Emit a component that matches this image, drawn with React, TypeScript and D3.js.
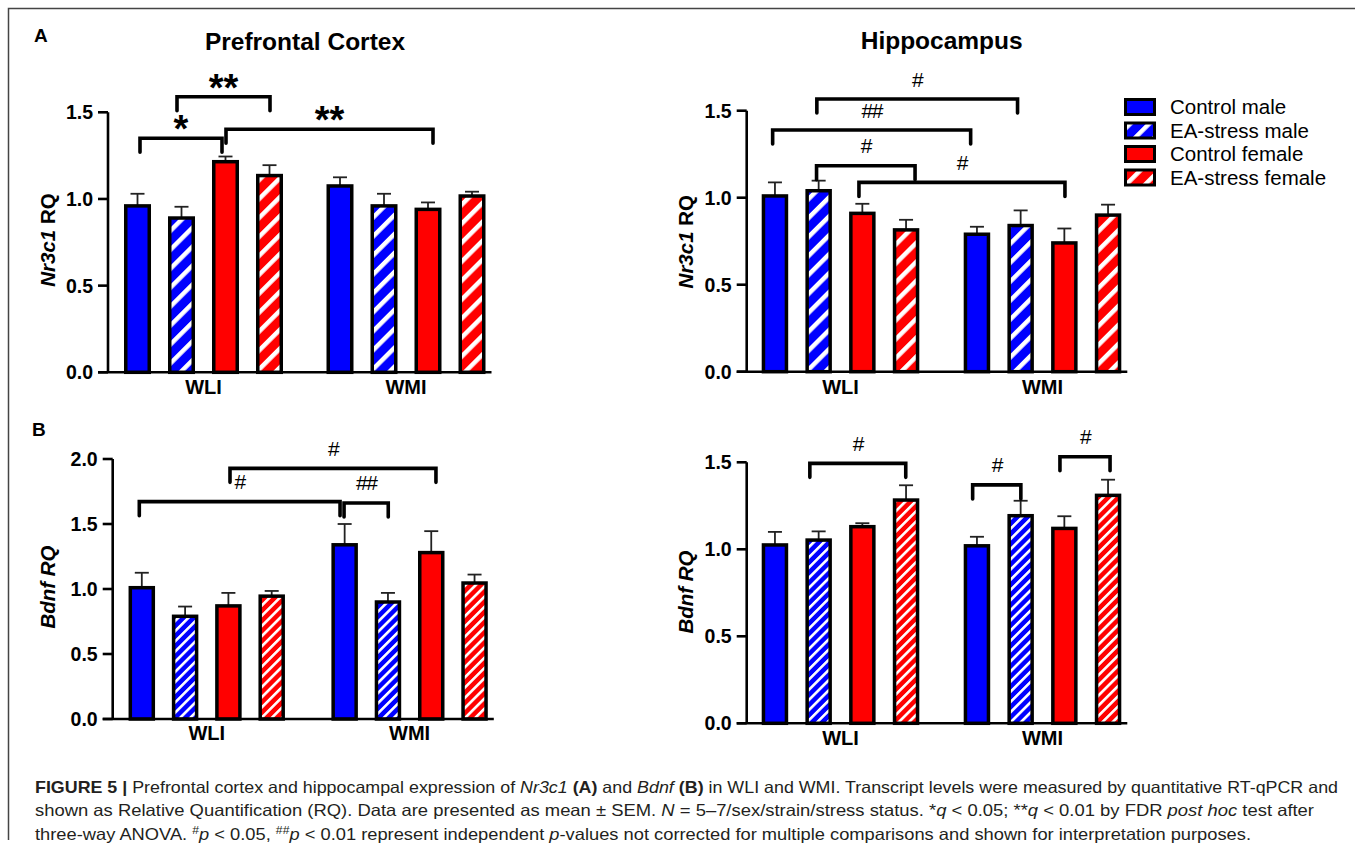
import React from "react";
import * as d3 from "d3";

const W = 1355;
const H = 860;

const groups = ["WLI", "WMI"];
const series = ["Control male", "EA-stress male", "Control female", "EA-stress female"];
const seriesColor = ["#0000ff", "#0000ff", "#ff0000", "#ff0000"];
const seriesHatched = [false, true, false, true];

// Nr3c1, prefrontal cortex  [group][series]
const pfcNr3c1Mean = [[0.96, 0.89, 1.215, 1.135], [1.075, 0.96, 0.94, 1.017]];
const pfcNr3c1Sem = [[0.07, 0.065, 0.03, 0.06], [0.05, 0.07, 0.04, 0.025]];
// Nr3c1, hippocampus
const hipNr3c1Mean = [[1.01, 1.04, 0.91, 0.815], [0.79, 0.84, 0.74, 0.9]];
const hipNr3c1Sem = [[0.078, 0.058, 0.055, 0.058], [0.043, 0.087, 0.083, 0.06]];
// Bdnf, prefrontal cortex
const pfcBdnfMean = [[1.01, 0.79, 0.87, 0.945], [1.34, 0.9, 1.28, 1.046]];
const pfcBdnfSem = [[0.115, 0.075, 0.1, 0.04], [0.16, 0.07, 0.165, 0.065]];
// Bdnf, hippocampus
const hipBdnfMean = [[1.025, 1.053, 1.13, 1.283], [1.02, 1.193, 1.12, 1.31]];
const hipBdnfSem = [[0.075, 0.05, 0.02, 0.085], [0.052, 0.086, 0.07, 0.09]];

const ticks15 = [0, 0.5, 1.0, 1.5];
const ticks20 = [0, 0.5, 1.0, 1.5, 2.0];

// brackets: from [group, series] to [group, series], level (data units), label, x-adjust
const pfcNr3c1Brackets = [
  { from: [0, 0], to: [0, 2], level: 1.35, label: "*", dx: [2.5, -3.5] },
  { from: [0, 1], to: [0, 3], level: 1.59, label: "**", dx: [-4.5, 0.5] },
  { from: [0, 2], to: [1, 2], level: 1.402, label: "**", dx: [0.5, 5] },
];
const hipNr3c1Brackets = [
  { from: [0, 1], to: [1, 1], level: 1.567, label: "#", dx: [-1.8, -3.1] },
  { from: [0, 0], to: [1, 0], level: 1.389, label: "##", dx: [-2.3, -6.3] },
  { from: [0, 1], to: [0, 3], level: 1.184, label: "#", dx: [-2.1, 9] },
  { from: [0, 2], to: [1, 2], level: 1.088, label: "#", dx: [-3.4, 0.6] },
];
const pfcBdnfBrackets = [
  { from: [0, 2], to: [1, 2], level: 1.928, label: "#", dx: [1.6, 4.7] },
  { from: [0, 0], to: [1, 0], level: 1.672, label: "#", dx: [-2.5, -4.6] },
  { from: [1, 0], to: [1, 1], level: 1.662, label: "##", dx: [-0.6, 0.3] },
];
const hipBdnfBrackets = [
  { from: [0, 1], to: [0, 3], level: 1.494, label: "#", dx: [-8.8, -0.3] },
  { from: [1, 0], to: [1, 1], level: 1.37, label: "#", dx: [-4.3, 0.2] },
  { from: [1, 2], to: [1, 3], level: 1.532, label: "#", dx: [-4.4, 2] },
];

const FONT = "'Liberation Sans', Arial, Helvetica, sans-serif";

type Bracket = { from: number[]; to: number[]; level: number; label: string; dx: number[] };

type PanelCfg = {
  id: string;
  axisX: number;
  yBase: number;
  yTopPx: number;
  yMax: number;
  ticks: number[];
  groupCenters: [number, number];
  step: number;
  barW: number;
  means: number[][];
  sems: number[][];
  brackets: Bracket[];
  title?: string;
  titleX?: number;
  titleY?: number;
  yLabel: { text: string; italic: boolean }[];
  yLabelX: number;
  yLabelY: number;
  groupLabelY: number;
  hatch: string;
};

const fmt = d3.format(".1f");

function Panel({ cfg }: { cfg: PanelCfg }) {
  const y = d3.scaleLinear().domain([0, cfg.yMax]).range([cfg.yBase, cfg.yTopPx]);
  const gx = d3.scalePoint<string>().domain(groups).range(cfg.groupCenters);
  const p = 1 - cfg.barW / cfg.step;
  const inner = d3
    .scaleBand<string>()
    .domain(series)
    .range([-2 * cfg.step, 2 * cfg.step])
    .paddingInner(p)
    .paddingOuter(p / 2);
  const cx = (g: number, s: number) =>
    (gx(groups[g]) as number) + (inner(series[s]) as number) + inner.bandwidth() / 2;
  const bw = inner.bandwidth();
  const lastRight = cx(1, 3) + bw / 2;
  const tickLen = 10;
  const sw = 3.5;
  const legLen = 14;

  return (
    <g>
      {cfg.title && (
        <text x={cfg.titleX} y={cfg.titleY} textAnchor="middle" fontFamily={FONT} fontWeight="bold" fontSize={24.5}>
          {cfg.title}
        </text>
      )}
      {/* bars */}
      {cfg.means.map((row, g) =>
        row.map((v, s) => {
          const c = cx(g, s);
          const top = y(v);
          const fill = seriesHatched[s]
            ? `url(#${cfg.hatch}-${s < 2 ? "blue" : "red"})`
            : seriesColor[s];
          const errTop = y(v + cfg.sems[g][s]);
          return (
            <g key={`${g}-${s}`}>
              <line x1={c} x2={c} y1={top} y2={errTop} stroke="#222" strokeWidth={1.8} />
              <line x1={c - 7} x2={c + 7} y1={errTop} y2={errTop} stroke="#222" strokeWidth={1.8} />
              <rect
                x={c - bw / 2 + sw / 2}
                y={top}
                width={bw - sw}
                height={cfg.yBase - top}
                fill={fill}
                stroke="#000"
                strokeWidth={sw}
              />
            </g>
          );
        })
      )}
      {/* axes */}
      <line x1={cfg.axisX} x2={cfg.axisX} y1={y(cfg.yMax)} y2={cfg.yBase} stroke="#000" strokeWidth={2.6} />
      <line x1={cfg.axisX - tickLen} x2={lastRight + 6} y1={cfg.yBase} y2={cfg.yBase} stroke="#000" strokeWidth={2.6} />
      {cfg.ticks.map((t) => (
        <g key={t}>
          <line x1={cfg.axisX - tickLen} x2={cfg.axisX} y1={y(t)} y2={y(t)} stroke="#000" strokeWidth={2.6} />
          <text
            x={cfg.axisX - tickLen - 5}
            y={y(t) + 7}
            textAnchor="end"
            fontFamily={FONT}
            fontWeight="bold"
            fontSize={19.5}
          >
            {fmt(t)}
          </text>
        </g>
      ))}
      {groups.map((gname) => (
        <text
          key={gname}
          x={gx(gname)}
          y={cfg.groupLabelY}
          textAnchor="middle"
          fontFamily={FONT}
          fontWeight="bold"
          fontSize={20}
        >
          {gname}
        </text>
      ))}
      <text
        transform={`translate(${cfg.yLabelX},${cfg.yLabelY}) rotate(-90)`}
        textAnchor="middle"
        fontFamily={FONT}
        fontWeight="bold"
        fontSize={20.5}
      >
        {cfg.yLabel.map((part, i) => (
          <tspan key={i} fontStyle={part.italic ? "italic" : "normal"}>
            {part.text}
          </tspan>
        ))}
      </text>
      {/* brackets */}
      {cfg.brackets.map((b, i) => {
        const x1 = cx(b.from[0], b.from[1]) + b.dx[0];
        const x2 = cx(b.to[0], b.to[1]) + b.dx[1];
        const ly = y(b.level);
        const star = b.label.startsWith("*");
        const mid = (x1 + x2) / 2;
        return (
          <g key={i}>
            <path
              d={`M${x1},${ly + legLen} V${ly} H${x2} V${ly + legLen}`}
              fill="none"
              stroke="#000"
              strokeWidth={3.6}
              strokeLinecap="round"
              strokeLinejoin="miter"
            />
            {star ? (
              <text x={mid} y={ly - 18 + 22} textAnchor="middle" fontFamily={FONT} fontWeight="bold" fontSize={38}>
                {b.label}
              </text>
            ) : (
              <text
                x={mid}
                y={ly - 20 + 7.5}
                textAnchor="middle"
                fontFamily={FONT}
                fontSize={21}
                letterSpacing={-1.5}
              >
                {b.label}
              </text>
            )}
          </g>
        );
      })}
    </g>
  );
}

const panels: PanelCfg[] = [
  {
    id: "a1",
    axisX: 108,
    yBase: 372.3,
    yTopPx: 112.3,
    yMax: 1.5,
    ticks: ticks15,
    groupCenters: [203.5, 406],
    step: 44,
    barW: 27,
    means: pfcNr3c1Mean,
    sems: pfcNr3c1Sem,
    brackets: pfcNr3c1Brackets,
    title: "Prefrontal Cortex",
    titleX: 305,
    titleY: 50,
    yLabel: [
      { text: "Nr3c1", italic: true },
      { text: " RQ", italic: false },
    ],
    yLabelX: 54.5,
    yLabelY: 240,
    groupLabelY: 394,
    hatch: "hA",
  },
  {
    id: "a2",
    axisX: 746.7,
    yBase: 371.7,
    yTopPx: 110.7,
    yMax: 1.5,
    ticks: ticks15,
    groupCenters: [840.5, 1042.5],
    step: 43.7,
    barW: 26.5,
    means: hipNr3c1Mean,
    sems: hipNr3c1Sem,
    brackets: hipNr3c1Brackets,
    title: "Hippocampus",
    titleX: 941.7,
    titleY: 49,
    yLabel: [
      { text: "Nr3c1", italic: true },
      { text: " RQ", italic: false },
    ],
    yLabelX: 692.5,
    yLabelY: 241.7,
    groupLabelY: 394,
    hatch: "hA",
  },
  {
    id: "b1",
    axisX: 112.7,
    yBase: 719,
    yTopPx: 459,
    yMax: 2.0,
    ticks: ticks20,
    groupCenters: [206.75, 409.6],
    step: 43.3,
    barW: 26.5,
    means: pfcBdnfMean,
    sems: pfcBdnfSem,
    brackets: pfcBdnfBrackets,
    yLabel: [{ text: "Bdnf RQ", italic: true }],
    yLabelX: 54.5,
    yLabelY: 587,
    groupLabelY: 740,
    hatch: "hB",
  },
  {
    id: "b2",
    axisX: 746.7,
    yBase: 723.3,
    yTopPx: 462.3,
    yMax: 1.5,
    ticks: ticks15,
    groupCenters: [840.5, 1042.5],
    step: 43.7,
    barW: 26.5,
    means: hipBdnfMean,
    sems: hipBdnfSem,
    brackets: hipBdnfBrackets,
    yLabel: [{ text: "Bdnf RQ", italic: true }],
    yLabelX: 692.5,
    yLabelY: 592,
    groupLabelY: 745,
    hatch: "hB",
  },
];

type Seg = { t: string; b?: boolean; i?: boolean; sup?: boolean };
const captionLines: { segs: Seg[]; len: number }[] = [
  {
    len: 1303,
    segs: [
      { t: "FIGURE 5 | ", b: true },
      { t: "Prefrontal cortex and hippocampal expression of " },
      { t: "Nr3c1", i: true },
      { t: " " },
      { t: "(A)", b: true },
      { t: " and " },
      { t: "Bdnf", i: true },
      { t: " " },
      { t: "(B)", b: true },
      { t: " in WLI and WMI. Transcript levels were measured by quantitative RT-qPCR and" },
    ],
  },
  {
    len: 1279,
    segs: [
      { t: "shown as Relative Quantification (RQ). Data are presented as mean ± SEM. " },
      { t: "N", i: true },
      { t: " = 5–7/sex/strain/stress status. *" },
      { t: "q", i: true },
      { t: " < 0.05; **" },
      { t: "q", i: true },
      { t: " < 0.01 by FDR " },
      { t: "post hoc", i: true },
      { t: " test after" },
    ],
  },
  {
    len: 1216,
    segs: [
      { t: "three-way ANOVA. " },
      { t: "#", sup: true },
      { t: "p", i: true },
      { t: " < 0.05, " },
      { t: "##", sup: true },
      { t: "p", i: true },
      { t: " < 0.01 represent independent " },
      { t: "p", i: true },
      { t: "-values not corrected for multiple comparisons and shown for interpretation purposes." },
    ],
  },
];

const legendRows = series.map((s, i) => ({ name: s, color: seriesColor[i], hatched: seriesHatched[i] }));

function HatchPattern({ id, color, period, white }: { id: string; color: string; period: number; white: number }) {
  return (
    <pattern id={id} patternUnits="userSpaceOnUse" width={period} height={period} patternTransform="rotate(45)">
      <rect width={period} height={period} fill={color} />
      <rect width={white} height={period} fill="#fff" />
    </pattern>
  );
}

export default function App() {
  return (
    <svg
      width={W}
      height={H}
      viewBox={`0 0 ${W} ${H}`}
      style={{ position: "absolute", left: 0, top: 0, background: "#fff" }}
    >
      <defs>
        <HatchPattern id="hA-blue" color="#0000ff" period={13.4} white={4.5} />
        <HatchPattern id="hA-red" color="#ff0000" period={13.4} white={4.5} />
        <HatchPattern id="hB-blue" color="#0000ff" period={7.2} white={2.6} />
        <HatchPattern id="hB-red" color="#ff0000" period={7.2} white={2.6} />
      </defs>
      <rect width={W} height={H} fill="#fff" />
      {/* frame */}
      <path d={`M8.5,840 V8.5 H${W}`} fill="none" stroke="#444" strokeWidth={1.5} />
      {/* panel letters */}
      <text x={34} y={41.5} fontFamily={FONT} fontWeight="bold" fontSize={19}>
        A
      </text>
      <text x={32} y={435.5} fontFamily={FONT} fontWeight="bold" fontSize={19}>
        B
      </text>
      {panels.map((p) => (
        <Panel key={p.id} cfg={p} />
      ))}
      {/* legend */}
      {legendRows.map((r, i) => {
        const cy = 107 + i * 23.5;
        return (
          <g key={r.name}>
            <rect
              x={1125.5}
              y={cy - 7.5}
              width={29}
              height={15}
              fill={r.hatched ? `url(#hA-${i < 2 ? "blue" : "red"})` : r.color}
              stroke="#000"
              strokeWidth={3}
            />
            <text x={1170} y={cy + 7} fontFamily={FONT} fontSize={20.5}>
              {r.name}
            </text>
          </g>
        );
      })}
      {/* caption */}
      {captionLines.map((line, li) => (
        <text
          key={li}
          x={35}
          y={793 + li * 23.3}
          fontFamily="'Liberation Sans Narrow', 'Liberation Sans', Arial, sans-serif"
          fontSize={16.5}
          fill="#231f20"
          textLength={line.len}
          lengthAdjust="spacingAndGlyphs"
        >
          {line.segs.map((s, si) => (
            <tspan
              key={si}
              fontWeight={s.b ? "bold" : "normal"}
              fontStyle={s.i ? "italic" : "normal"}
              baselineShift={s.sup ? "super" : undefined}
              fontSize={s.sup ? 11 : undefined}
            >
              {s.t}
            </tspan>
          ))}
        </text>
      ))}
    </svg>
  );
}
